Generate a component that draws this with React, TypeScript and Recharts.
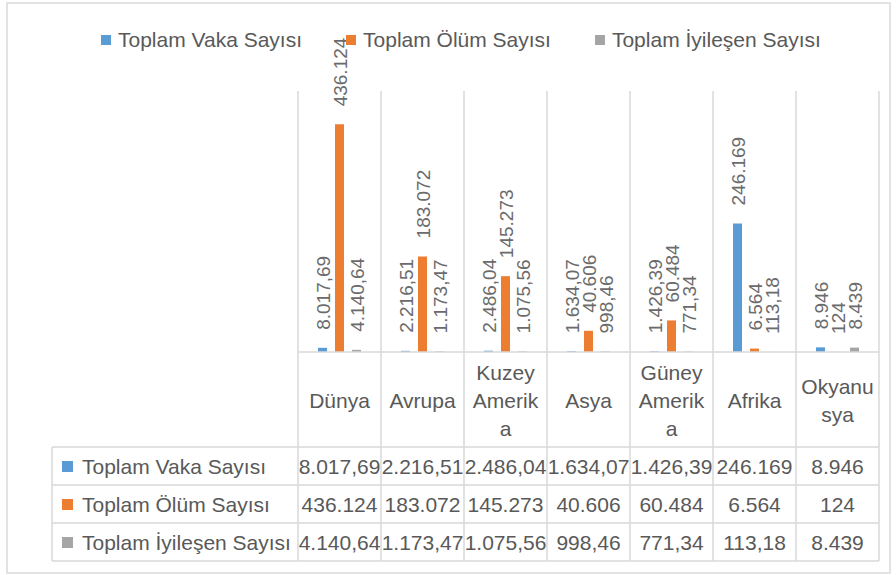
import { BarChart, Bar, XAxis, YAxis, CartesianGrid, Legend, LabelList } from "recharts";

const categories = ["Dünya", "Avrupa", "Kuzey Amerika", "Asya", "Güney Amerika", "Afrika", "Okyanusya"];
// header cells wrap the long names like the original table does
const categoryLines = [["Dünya"], ["Avrupa"], ["Kuzey", "Amerik", "a"], ["Asya"], ["Güney", "Amerik", "a"], ["Afrika"], ["Okyanu", "sya"]];

const seriesNames = ["Toplam Vaka Sayısı", "Toplam Ölüm Sayısı", "Toplam İyileşen Sayısı"];
const seriesColors = ["#5B9BD5", "#ED7D31", "#A5A5A5"];

const vakaValues = [8.01769, 2.21651, 2.48604, 1.63407, 1.42639, 246.169, 8.946];
const olumValues = [436.124, 183.072, 145.273, 40.606, 60.484, 6.564, 0.124];
const iyilesenValues = [4.14064, 1.17347, 1.07556, 0.99846, 0.77134, 0.11318, 8.439];

const vakaLabels = ["8.017,69", "2.216,51", "2.486,04", "1.634,07", "1.426,39", "246.169", "8.946"];
const olumLabels = ["436.124", "183.072", "145.273", "40.606", "60.484", "6.564", "124"];
const iyilesenLabels = ["4.140,64", "1.173,47", "1.075,56", "998,46", "771,34", "113,18", "8.439"];

const data = categories.map((name, i) => ({
  name,
  vaka: vakaValues[i],
  olum: olumValues[i],
  iyilesen: iyilesenValues[i],
  vakaLabel: vakaLabels[i],
  olumLabel: olumLabels[i],
  iyilesenLabel: iyilesenLabels[i],
}));

const W = 896;
const H = 575;
const MARGIN = { top: 10, right: 17, bottom: 14, left: 298 };
const HEAD_H = 95;
const ROW_H = 38;
const AXIS_H = HEAD_H + ROW_H * 3;
const FONT = "'Liberation Sans', Arial, sans-serif";
const TEXT = "#595959";
const LINE = "#d9d9d9";

function BarLabel(props: any) {
  const { x, y, width, value } = props;
  const cx = Number(x) + Number(width) / 2 + 1;
  const ty = Number(y) - 18;
  return (
    <text x={cx} y={ty} transform={`rotate(-90 ${cx} ${ty})`} textAnchor="start" dominantBaseline="central"
      fill="#6b6b6b" fontSize={19} fontFamily={FONT}>
      {value}
    </text>
  );
}

function TableTick(props: any) {
  const { x, y, payload } = props;
  const i = payload.index;
  const n = categories.length;
  const half = (W - MARGIN.left - MARGIN.right) / n / 2;
  const left = x - half;
  const right = x + half;
  const lines = categoryLines[i];
  const cells = [vakaLabels[i], olumLabels[i], iyilesenLabels[i]];
  const headMid = y + HEAD_H / 2 + 1;
  const tableLeft = 52;

  return (
    <g>
      <line x1={left} x2={left} y1={y} y2={y + AXIS_H} stroke={LINE} strokeWidth={1.5} />
      {i === n - 1 && <line x1={right} x2={right} y1={y} y2={y + AXIS_H} stroke={LINE} strokeWidth={1.5} />}
      {[0, 1, 2, 3].map((k) => (
        <line key={k} x1={left} x2={right} y1={y + HEAD_H + k * ROW_H} y2={y + HEAD_H + k * ROW_H} stroke={LINE} strokeWidth={1.5} />
      ))}
      {lines.map((t, k) => (
        <text key={k} x={x} y={headMid - (lines.length - 1) * 14 + k * 28} textAnchor="middle" dominantBaseline="central"
          fill={TEXT} fontSize={21} fontFamily={FONT}>
          {t}
        </text>
      ))}
      {cells.map((t, k) => (
        <text key={k} x={x} y={y + HEAD_H + ROW_H / 2 + k * ROW_H} textAnchor="middle" dominantBaseline="central"
          fill={TEXT} fontSize={21} fontFamily={FONT}>
          {t}
        </text>
      ))}
      {i === 0 && (
        <g>
          <line x1={tableLeft} x2={tableLeft} y1={y + HEAD_H} y2={y + AXIS_H} stroke={LINE} strokeWidth={1.5} />
          {[0, 1, 2, 3].map((k) => (
            <line key={k} x1={tableLeft} x2={left} y1={y + HEAD_H + k * ROW_H} y2={y + HEAD_H + k * ROW_H} stroke={LINE} strokeWidth={1.5} />
          ))}
          {seriesNames.map((s, k) => {
            const cy = y + HEAD_H + ROW_H / 2 + k * ROW_H;
            return (
              <g key={s}>
                <rect x={tableLeft + 10} y={cy - 5} width={11} height={11} fill={seriesColors[k]} />
                <text x={tableLeft + 30} y={cy} dominantBaseline="central" fill={TEXT} fontSize={21} fontFamily={FONT}>{s}</text>
              </g>
            );
          })}
        </g>
      )}
    </g>
  );
}

function TopLegend() {
  return (
    <div style={{ height: 81, width: W, paddingTop: 20, paddingLeft: 101, boxSizing: "border-box", display: "flex", gap: 44, fontFamily: FONT, fontSize: 21, color: TEXT }}>
      {seriesNames.map((s, k) => (
        <span key={s} style={{ display: "flex", alignItems: "center", gap: 7, height: 20 }}>
          <span style={{ width: 10, height: 10, background: seriesColors[k], display: "inline-block" }} />
          {s}
        </span>
      ))}
    </div>
  );
}

export default function App() {
  return (
    <div style={{ position: "absolute", left: 0, top: 0, width: W, height: H, background: "#fff" }}>
      <div style={{ position: "absolute", left: 6, top: 2, width: 885, height: 572, border: "2px solid #e3e3e3", boxSizing: "border-box" }} />
      <div style={{ position: "absolute", left: 0, top: 0 }}>
        <BarChart width={W} height={H} data={data} margin={MARGIN} barSize={9} barGap={8}>
          <CartesianGrid
            horizontal={false}
            stroke={LINE}
            strokeWidth={1.5}
            verticalCoordinatesGenerator={({ offset }: any) =>
              [...categories.map((_, i) => offset.left + (offset.width * i) / categories.length), offset.left + offset.width]
            }
          />
          <XAxis dataKey="name" height={AXIS_H} interval={0} tickLine={false} tickSize={0} tickMargin={0}
            axisLine={{ stroke: LINE, strokeWidth: 1.5 }} tick={<TableTick />} />
          <YAxis hide domain={[0, 500]} />
          <Legend verticalAlign="top" align="center" content={<TopLegend />} wrapperStyle={{ left: 0, top: MARGIN.top, width: W }} />
          <Bar dataKey="vaka" name={seriesNames[0]} fill={seriesColors[0]} isAnimationActive={false}>
            <LabelList dataKey="vakaLabel" content={<BarLabel />} />
          </Bar>
          <Bar dataKey="olum" name={seriesNames[1]} fill={seriesColors[1]} isAnimationActive={false}>
            <LabelList dataKey="olumLabel" content={<BarLabel />} />
          </Bar>
          <Bar dataKey="iyilesen" name={seriesNames[2]} fill={seriesColors[2]} isAnimationActive={false}>
            <LabelList dataKey="iyilesenLabel" content={<BarLabel />} />
          </Bar>
        </BarChart>
      </div>
    </div>
  );
}
